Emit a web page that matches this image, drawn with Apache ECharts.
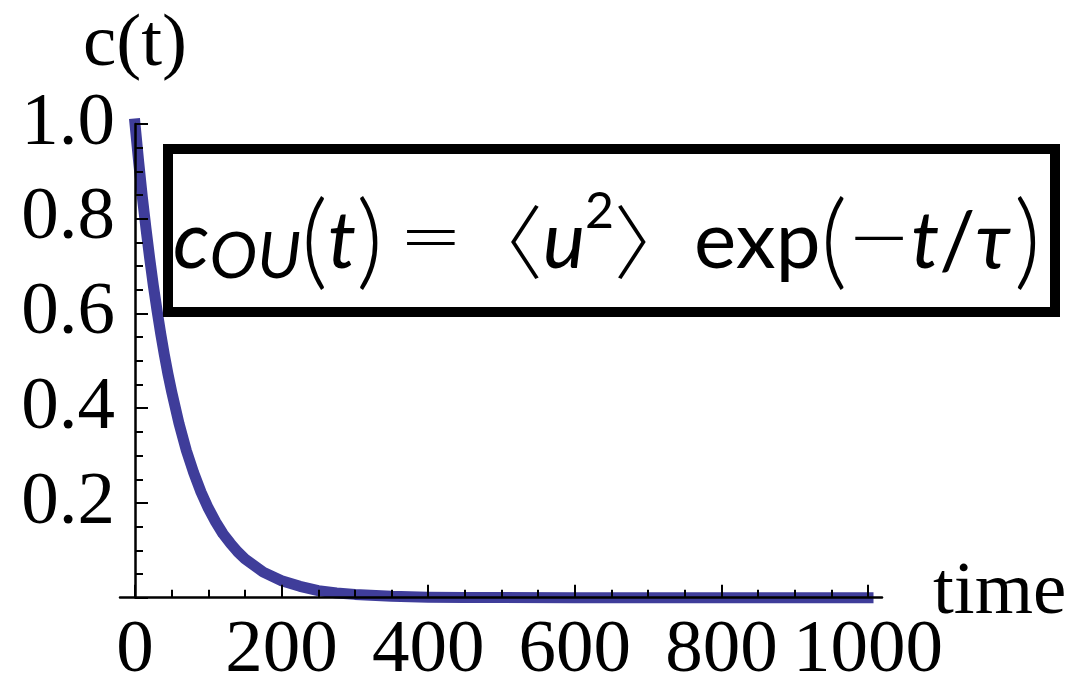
<!DOCTYPE html>
<html><head><meta charset="utf-8">
<script src="https://cdn.jsdelivr.net/npm/echarts@6/dist/echarts.min.js"></script>
<style>html,body{margin:0;padding:0;background:#fff}#c{width:1078px;height:679px}</style>
</head><body><div id="c"></div>
<script>
// time values (x) and correlation c(t)
const times  = [0, 5, 10, 15, 20, 25, 30, 35, 40, 45, 50, 60, 70, 80, 90, 100, 110, 120, 130, 140, 150, 175, 200, 225, 250, 275, 300, 350, 400, 450, 500, 600, 700, 800, 900, 1000];
const values = [1.000, 0.920, 0.846, 0.779, 0.717, 0.659, 0.607, 0.558, 0.513, 0.472, 0.435, 0.368, 0.311, 0.264, 0.223, 0.189, 0.160, 0.135, 0.115, 0.097, 0.082, 0.054, 0.036, 0.024, 0.015, 0.010, 0.007, 0.003, 0.001, 0.0006, 0.0002, 0, 0, 0, 0, 0];
const xTicks = [0, 200, 400, 600, 800, 1000];
const yTicks = [0.2, 0.4, 0.6, 0.8, 1.0];
const yLabel = 'c(t)';
const xLabel = 'time';

const chart = echarts.init(document.getElementById('c'), null, {renderer: 'canvas'});
const serif = 'Liberation Serif';
const lblFont = 75;
const option = {
  animation: false,
  backgroundColor: '#fff',
  grid: [
    {left: 135, top: 124, width: 733, height: 473.7, outerBoundsMode: 'none', containLabel: false},
    {left: 120, top: 124, width: 762, height: 473.7, outerBoundsMode: 'none', containLabel: false}
  ],
  xAxis: [
    {
      type: 'value', gridIndex: 0, min: xTicks[0], max: xTicks[xTicks.length - 1], interval: xTicks[1] - xTicks[0],
      z: 10,
      axisLine: {show: false},
      axisTick: {show: true, inside: true, length: 13, lineStyle: {color: '#000', width: 2}},
      minorTick: {show: true, splitNumber: 4, length: 8, lineStyle: {color: '#000', width: 2}},
      splitLine: {show: false},
      axisLabel: {fontFamily: serif, fontSize: lblFont, color: '#000', margin: 16, showMinLabel: true, showMaxLabel: true,
        formatter: v => String(v)}
    },
    {
      type: 'value', gridIndex: 1, min: -20, max: 1020, z: 10,
      axisLine: {show: true, lineStyle: {color: '#000', width: 2.5}},
      axisTick: {show: false}, axisLabel: {show: false}, splitLine: {show: false}
    }
  ],
  yAxis: [
    {
      type: 'value', gridIndex: 0, min: 0, max: yTicks[yTicks.length - 1], interval: yTicks[0],
      z: 10,
      axisLine: {show: true, lineStyle: {color: '#000', width: 2.5}},
      axisTick: {show: true, inside: true, length: 13, lineStyle: {color: '#000', width: 2}},
      minorTick: {show: true, splitNumber: 4, length: 8, lineStyle: {color: '#000', width: 2}},
      splitLine: {show: false},
      axisLabel: {fontFamily: serif, fontSize: lblFont, color: '#000', margin: 20,
        formatter: v => (v === 0 ? '' : v.toFixed(1))}
    },
    {type: 'value', gridIndex: 1, min: 0, max: 1, show: false}
  ],
  series: [{
    type: 'line', xAxisIndex: 0, yAxisIndex: 0,
    data: times.map((t, i) => [t, values[i]]),
    showSymbol: false, clip: false, z: 2,
    lineStyle: {color: '#3f3d9a', width: 11, cap: 'square', join: 'round'}
  }],
  graphic: [
    {type: 'text', left: 83, top: 8, z: 20,
      style: {text: yLabel, font: `${lblFont}px "${serif}"`, fill: '#000'}},
    {type: 'text', left: 933, top: 556, z: 20,
      style: {text: xLabel, font: `${lblFont}px "${serif}"`, fill: '#000'}},
    {type: 'rect', z: 20,
      shape: {x: 168, y: 149, width: 887, height: 163},
      style: {fill: 'none', stroke: '#000', lineWidth: 10}},
    {type: 'text', z: 21, x: 607, y: 242,
      style: {
        align: 'center', verticalAlign: 'middle',
        text: '{i|c}{sub|OU}{p|(}{i|t}{p|)}{e|=}{b|〈}{i|u}{sup|2}{b|〉}{n|exp}{p|(}{e2|−}{i|t}{n|/}{i|τ}{pr|)}',
        rich: {
          n: {fontFamily: 'Lato', fontSize: 80, fill: '#000', lineHeight: 110},
          e: {fontFamily: 'DejaVu Sans', fontWeight: 300, fontSize: 76, fill: '#000', lineHeight: 110, padding: [0, 0, 0, 16]},
          e2: {fontFamily: 'DejaVu Sans', fontWeight: 300, fontSize: 76, fill: '#000', lineHeight: 110},
          i: {fontFamily: 'Lato', fontStyle: 'italic', fontSize: 80, fill: '#000', lineHeight: 110},
          p: {fontFamily: 'Lato', fontWeight: 300, fontSize: 104, fill: '#000', lineHeight: 110},
          pr: {fontFamily: 'Lato', fontWeight: 300, fontSize: 104, fill: '#000', lineHeight: 110, padding: [0, 0, 0, 4]},
          b: {fontFamily: 'Noto Sans CJK JP', fontWeight: 300, fontSize: 80, fill: '#000', lineHeight: 110},
          sub: {fontFamily: 'Lato', fontStyle: 'italic', fontSize: 64, fill: '#000', lineHeight: 64, verticalAlign: 'bottom', padding: [0, 0, 8, 0]},
          sup: {fontFamily: 'Lato', fontSize: 50, fill: '#000', lineHeight: 44, verticalAlign: 'top', padding: [0, 0, 0, 0]}
        }
      }}
  ]
};
chart.setOption(option);
</script></body></html>
